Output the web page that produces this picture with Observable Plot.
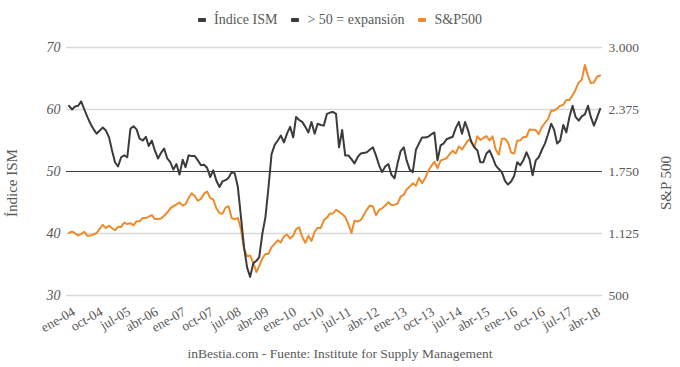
<!DOCTYPE html>
<html>
<head>
<meta charset="utf-8">
<script src="https://cdn.jsdelivr.net/npm/d3@7"></script>
<script src="https://cdn.jsdelivr.net/npm/@observablehq/plot@0.6"></script>
<style>
  body { margin: 0; background: #fff; font-family: "Liberation Serif", serif; }
  #wrap { position: relative; width: 680px; height: 367px; overflow: hidden; }
  #legend { height: 36px; padding-top: 4px; box-sizing: border-box; display: flex; justify-content: center; align-items: center; font-size: 14px; color: #595959; }
  .item { display: flex; align-items: center; margin: 0 7px; }
  .sw { display: inline-block; width: 8px; height: 4px; border-radius: 1px; margin-right: 8px; }
  #caption { height: 25px; line-height: 24px; text-align: center; font-size: 13.5px; color: #595959; }
  .ytitle { position: absolute; font-size: 15px; color: #595959; white-space: nowrap; transform: translate(-50%, -50%) rotate(-90deg); }
  svg text { font-family: "Liberation Serif", serif !important; }
</style>
</head>
<body>
<div id="wrap">
  <div id="legend"></div>
  <div id="chart"></div>
  <div id="caption"></div>
</div>
<script>
// ---- Data (monthly, Jan 2004 – Jun 2018) ----
const startYear = 2004;
const startMonth = 0;

const ism = [
  60.6, 60.0, 60.5, 60.6, 61.3, 60.0, 58.8, 57.7, 56.8, 56.1, 56.6, 57.1,
  56.6, 55.5, 53.5, 51.5, 50.8, 52.3, 52.6, 52.3, 56.9, 57.3, 56.8, 55.3,
  55.0, 55.6, 54.1, 55.0, 53.4, 52.1, 53.0, 53.7, 52.1, 51.5, 50.3, 51.2,
  49.5, 51.9, 50.7, 52.6, 52.5, 52.5, 51.8, 51.0, 51.1, 50.6, 49.1, 50.2,
  48.5, 47.5, 48.4, 48.6, 49.0, 49.9, 49.7, 47.5, 42.6, 37.8, 34.5, 33.0,
  35.2, 35.6, 36.2, 40.0, 42.6, 47.5, 52.8, 54.3, 55.0, 55.8, 54.7, 56.1,
  57.2, 55.5, 58.8, 58.3, 58.0, 57.2, 56.3, 58.0, 56.1, 57.7, 57.5, 57.4,
  59.3, 59.5, 59.6, 59.3, 53.9, 56.7, 52.6, 52.6, 52.0, 51.3, 52.3, 52.9,
  53.0, 53.1, 53.5, 53.9, 52.6, 51.0, 49.9, 50.8, 51.2, 49.5, 48.9, 51.3,
  53.3, 53.9, 51.8, 50.3, 49.9, 53.5, 54.5, 55.5, 55.5, 55.6, 56.0, 56.3,
  51.8, 54.2, 54.5, 55.2, 55.4, 55.6, 57.0, 58.0, 56.1, 58.0, 56.6, 54.8,
  53.9, 53.4, 51.5, 51.5, 52.9, 53.4, 52.3, 51.0, 50.4, 49.9, 48.5, 47.9,
  48.4, 49.3, 51.5, 51.0, 51.8, 53.1, 52.0, 49.4, 51.8, 52.3, 53.5, 54.5,
  56.0, 57.7, 56.8, 54.5, 55.0, 57.5, 56.3, 58.8, 60.6, 58.8, 58.2, 58.9,
  59.2, 60.6, 58.8, 57.4, 58.7, 60.1
];

const sp500 = [
  1131, 1145, 1126, 1107, 1121, 1141, 1102, 1104, 1115, 1130, 1174, 1212,
  1181, 1204, 1181, 1157, 1192, 1191, 1234, 1220, 1229, 1207, 1249, 1248,
  1280, 1281, 1295, 1311, 1270, 1270, 1277, 1304, 1336, 1378, 1401, 1418,
  1438, 1407, 1421, 1482, 1531, 1503, 1455, 1474, 1527, 1549, 1481, 1468,
  1379, 1331, 1323, 1386, 1400, 1280, 1267, 1283, 1166, 969, 896, 903,
  826, 735, 798, 873, 919, 919, 987, 1021, 1057, 1036, 1096, 1115,
  1074, 1104, 1169, 1187, 1089, 1031, 1102, 1049, 1141, 1183, 1181, 1258,
  1286, 1327, 1326, 1364, 1345, 1321, 1292, 1219, 1131, 1253, 1247, 1258,
  1312, 1366, 1408, 1398, 1310, 1362, 1379, 1407, 1441, 1412, 1416, 1426,
  1498, 1515, 1569, 1598, 1631, 1606, 1686, 1633, 1682, 1757, 1806, 1848,
  1783, 1859, 1872, 1884, 1924, 1960, 1931, 2003, 1972, 2018, 2068, 2059,
  1995, 2105, 2068, 2086, 2107, 2063, 2104, 1972, 1920, 2079, 2080, 2044,
  1940, 1932, 2060, 2065, 2097, 2099, 2174, 2171, 2168, 2126, 2199, 2239,
  2279, 2364, 2363, 2384, 2412, 2423, 2470, 2472, 2519, 2575, 2648, 2674,
  2824, 2714, 2641, 2648, 2705, 2718
];

const expansionLevel = 50;
const ismTicks = [30, 40, 50, 60, 70];
const spTicks = [500, 1125, 1750, 2375, 3000];
const spTickLabels = ["500", "1.125", "1.750", "2.375", "3.000"];
const xTickLabels = ["ene-04","oct-04","jul-05","abr-06","ene-07","oct-07","jul-08","abr-09","ene-10","oct-10",
                     "jul-11","abr-12","ene-13","oct-13","jul-14","abr-15","ene-16","oct-16","jul-17","abr-18"];
const seriesNames = ["Índice ISM", "> 50 = expansión", "S&P500"];
const seriesColors = ["#3b3b3b", "#3b3b3b", "#ED8B2E"];
const leftTitle = "Índice ISM";
const rightTitle = "S&P 500";
const captionText = "inBestia.com - Fuente: Institute for Supply Management";

// ---- Build ----
const FONT = "'Liberation Serif', serif";
const ismDomain = [30, 70];
const spDomain = [500, 3000];
const toIsm = v => ismDomain[0] + (v - spDomain[0]) * (ismDomain[1] - ismDomain[0]) / (spDomain[1] - spDomain[0]);

const dates = ism.map((_, i) => new Date(Date.UTC(startYear, startMonth + i, 1)));
const ismRows = ism.map((v, i) => ({date: dates[i], value: v}));
const spRows = sp500.map((v, i) => ({date: dates[i], value: toIsm(v)}));

const monthIdx = {ene:0,feb:1,mar:2,abr:3,may:4,jun:5,jul:6,ago:7,sep:8,oct:9,nov:10,dic:11};
const tickDates = xTickLabels.map(s => { const [m, y] = s.split("-"); return new Date(Date.UTC(2000 + (+y), monthIdx[m], 1)); });
const xLabelByTime = new Map(tickDates.map((d, i) => [+d, xTickLabels[i]]));
const spLabelByValue = new Map(spTicks.map((t, i) => [toIsm(t), spTickLabels[i]]));

const chart = Plot.plot({
  width: 680,
  height: 306,
  marginTop: 11,
  marginBottom: 47,
  marginLeft: 66,
  marginRight: 78,
  insetLeft: 2.5,
  insetRight: 2.4,
  style: {fontFamily: FONT, fontSize: "14px", color: "#595959", background: "#fff", overflow: "visible"},
  x: {type: "utc", domain: [dates[0], dates[dates.length - 1]]},
  y: {domain: ismDomain},
  marks: [
    Plot.ruleY(ismTicks.filter(t => t !== expansionLevel), {stroke: "#d9d9d9", strokeWidth: 1.4}),
    Plot.ruleY([expansionLevel], {stroke: seriesColors[1], strokeWidth: 1}),
    Plot.lineY(spRows, {x: "date", y: "value", stroke: seriesColors[2], strokeWidth: 2}),
    Plot.lineY(ismRows, {x: "date", y: "value", stroke: seriesColors[0], strokeWidth: 2}),
    Plot.axisY(ismTicks, {anchor: "left", tickSize: 0, tickPadding: 6, fontFamily: FONT, fontStyle: "italic", fontSize: 14, label: null}),
    Plot.axisY(spTicks.map(toIsm), {anchor: "right", tickSize: 0, tickPadding: 6, fontFamily: FONT, fontSize: 13.5, tickFormat: d => spLabelByValue.get(d), label: null}),
    Plot.axisX(tickDates, {anchor: "bottom", tickSize: 0, tickPadding: 15, tickRotate: -30, dx: 5, fontFamily: FONT, fontSize: 13.5, tickFormat: d => xLabelByTime.get(+d), label: null})
  ]
});
document.getElementById("chart").appendChild(chart);

// Legend
const legend = document.getElementById("legend");
seriesNames.forEach((name, i) => {
  const it = document.createElement("span");
  it.className = "item";
  const sw = document.createElement("span");
  sw.className = "sw";
  sw.style.background = seriesColors[i];
  it.appendChild(sw);
  it.appendChild(document.createTextNode(name));
  legend.appendChild(it);
});

document.getElementById("caption").textContent = captionText;

// Axis titles
const wrap = document.getElementById("wrap");
[[leftTitle, 12], [rightTitle, 666]].forEach(([t, x]) => {
  const d = document.createElement("div");
  d.className = "ytitle";
  d.style.left = x + "px";
  d.style.top = "183px";
  d.textContent = t;
  wrap.appendChild(d);
});
</script>
</body>
</html>
